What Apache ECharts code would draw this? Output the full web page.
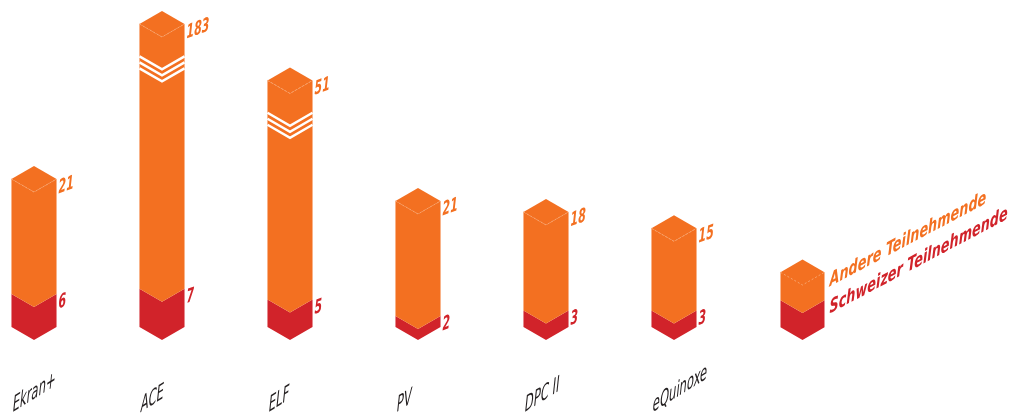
<!DOCTYPE html>
<html><head><meta charset="utf-8">
<script src="https://cdn.jsdelivr.net/npm/echarts@6/dist/echarts.min.js"></script>
<style>html,body{margin:0;padding:0;background:#fff}#c{width:1015px;height:415px}</style>
</head><body><div id="c"></div>
<script>
// ---- data ----
const categories = ['Ekran+', 'ACE', 'ELF', 'PV', 'DPC II', 'eQuinoxe'];
const schweizer = [6, 7, 5, 2, 3, 3];
const andere = [21, 183, 51, 21, 18, 15];
const legendNames = ['Andere Teilnehmende', 'Schweizer Teilnehmende'];
const axisBreaks = [[38, 49], [59.3, 183]];

// ---- style ----
const ORANGE = '#F37021', RED = '#D1232A', DASH = '#F8A36B';
const TAN30 = Math.tan(Math.PI / 6);
const DEG = Math.PI / 180;
const SK_NUM = 20 * DEG, SK_CAT = 32 * DEG, SK_LEG = 28 * DEG;
const SKX_CAT = -6 * DEG;
const SX_NUM = 0.64, SX_CAT = 0.56, SX_LEG = 0.75;
const NUM_FONT = 'italic bold 19px "Liberation Sans Narrow", "DejaVu Sans Condensed", sans-serif';
const CAT_FONT = '23px "Liberation Sans Narrow", "DejaVu Sans Condensed", sans-serif';
const LEG_FONT = 'italic bold 19px "Liberation Sans Narrow", "DejaVu Sans Condensed", sans-serif';

const chart = echarts.init(document.getElementById('c'), null, { renderer: 'canvas' });

function prism(cx, w, dy, yBot, yTop, color) {
  return {
    type: 'polygon',
    shape: { points: [[cx - w, yBot - dy], [cx, yBot], [cx + w, yBot - dy], [cx + w, yTop - dy], [cx, yTop], [cx - w, yTop - dy]] },
    style: { fill: color }
  };
}

function renderItem(params, api) {
  const i = api.value(0);
  const s = api.value(1), a = api.value(2);
  const total = s + a;
  const p0 = api.coord([i, 0]);
  const p1 = api.coord([i, s]);
  const p2 = api.coord([i, total]);
  const cx = p0[0];
  const w = api.size([1, 0])[0] * 0.176;
  const dy = w * TAN30;
  const yb = p0[1], y1 = p1[1], y2 = p2[1];
  const children = [];
  children.push(prism(cx, w, dy, yb, y1, RED));
  children.push(prism(cx, w, dy, y1, y2, ORANGE));
  children.push({
    type: 'polygon',
    shape: { points: [[cx - w, y2 - dy], [cx, y2], [cx + w, y2 - dy], [cx, y2 - 2 * dy]] },
    style: { fill: ORANGE }
  });
  children.push({
    type: 'polyline',
    shape: { points: [[cx - w, y2 - dy], [cx, y2], [cx + w, y2 - dy]] },
    style: { stroke: DASH, lineWidth: 1, lineDash: [2, 2], fill: null }
  });
  // break marker at the topmost break that the bar passes
  let brk = null;
  axisBreaks.forEach(function (b) { if (total > b[1]) brk = b; });
  if (brk) {
    const yk = api.coord([i, brk[1]])[1];
    [-6, 0, 6].forEach(function (o) {
      children.push({
        type: 'polyline',
        shape: { points: [[cx - w, yk - dy + o], [cx, yk + o], [cx + w, yk - dy + o]] },
        style: { stroke: '#fff', lineWidth: 2.5, fill: null }
      });
    });
  }
  // value labels
  children.push({
    type: 'text', x: cx + w + 2, y: y2 - dy, skewY: SK_NUM, scaleX: SX_NUM,
    style: { text: String(a), fill: ORANGE, font: NUM_FONT, align: 'left', verticalAlign: 'top' }
  });
  children.push({
    type: 'text', x: cx + w + 2, y: y1 - dy, skewY: SK_NUM, scaleX: SX_NUM,
    style: { text: String(s), fill: RED, font: NUM_FONT, align: 'left', verticalAlign: 'top' }
  });
  // category label
  children.push({
    type: 'text', x: cx - w, y: 418, skewY: SK_CAT, skewX: SKX_CAT, scaleX: SX_CAT,
    style: { text: categories[i], fill: '#231F20', font: CAT_FONT, align: 'left', verticalAlign: 'bottom' }
  });
  return { type: 'group', children: children };
}

const seriesData = categories.map(function (c, i) { return [i, schweizer[i], andere[i]]; });

// legend cube
const LX = 802.5, LW = 22, LDY = LW * TAN30, LB = 340, LM = 313, LT = 285;
const legendGraphic = [
  { type: 'polygon', shape: { points: [[LX - LW, LB - LDY], [LX, LB], [LX + LW, LB - LDY], [LX + LW, LM - LDY], [LX, LM], [LX - LW, LM - LDY]] }, style: { fill: RED } },
  { type: 'polygon', shape: { points: [[LX - LW, LM - LDY], [LX, LM], [LX + LW, LM - LDY], [LX + LW, LT - LDY], [LX, LT - 2 * LDY], [LX - LW, LT - LDY]] }, style: { fill: ORANGE } },
  { type: 'polyline', shape: { points: [[LX - LW, LT - LDY], [LX, LT], [LX + LW, LT - LDY]] }, style: { stroke: DASH, lineWidth: 1, lineDash: [2, 2], fill: null } },
  { type: 'text', x: LX + LW + 5, y: 291, skewY: SK_LEG, scaleX: SX_LEG, style: { text: legendNames[0], fill: ORANGE, font: LEG_FONT, align: 'left', verticalAlign: 'bottom' } },
  { type: 'text', x: LX + LW + 5, y: 318, skewY: SK_LEG, scaleX: SX_LEG, style: { text: legendNames[1], fill: RED, font: LEG_FONT, align: 'left', verticalAlign: 'bottom' } }
];

chart.setOption({
  animation: false,
  backgroundColor: '#fff',
  grid: { left: 34, right: 341, top: 37, bottom: 75 },
  xAxis: { type: 'category', data: categories, boundaryGap: false, show: false },
  yAxis: {
    type: 'value', min: 0, max: 190, show: false,
    breaks: axisBreaks.map(function (b) { return { start: b[0], end: b[1], gap: 0 }; }),
    breakArea: { show: false }
  },
  graphic: legendGraphic,
  series: [{ type: 'custom', renderItem: renderItem, data: seriesData, clip: false }]
});

// ensure skew/scale is applied to text elements (fallback if option keys are not passed through)
const skewMap = {};
andere.concat(schweizer).forEach(function (v) { skewMap[String(v)] = [SK_NUM, SX_NUM, 0]; });
categories.forEach(function (c) { skewMap[c] = [SK_CAT, SX_CAT, SKX_CAT]; });
legendNames.forEach(function (c) { skewMap[c] = [SK_LEG, SX_LEG, 0]; });
function applySkew() {
  const zr = chart.getZr();
  zr.storage.getRoots().forEach(function (root) {
    const visit = function (el) {
      if (el.style && typeof el.style.text === 'string' && skewMap[el.style.text] !== undefined) {
        const cfg = skewMap[el.style.text];
        if (!el.skewY) el.skewY = cfg[0];
        if (el.scaleX === 1) el.scaleX = cfg[1];
        if (!el.skewX && cfg[2]) el.skewX = cfg[2];
        el.markRedraw();
      }
      if (el.isGroup) el.eachChild(visit);
    };
    visit(root);
  });
  zr.refreshImmediately();
}
applySkew();
</script>
</body></html>
